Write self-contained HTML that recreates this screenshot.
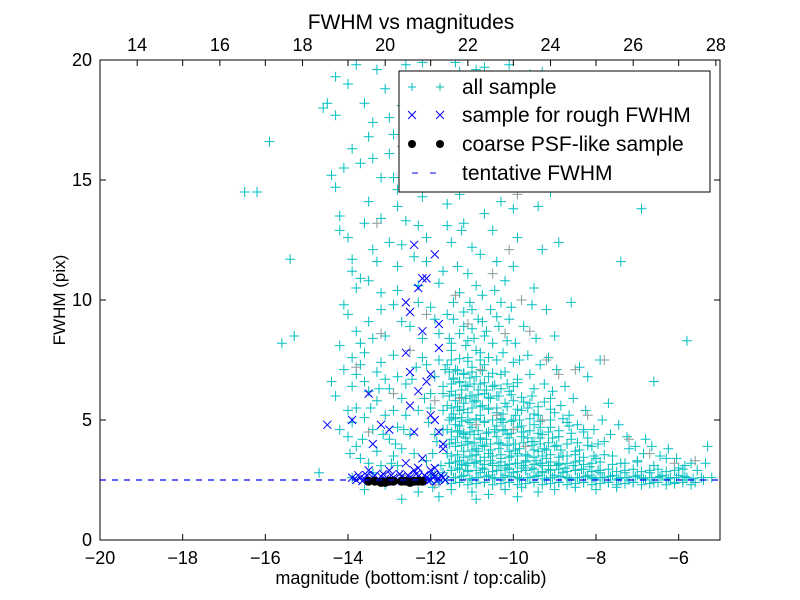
<!DOCTYPE html>
<html><head><meta charset="utf-8"><style>
html,body{margin:0;padding:0;background:#fff;}
svg{display:block;font-family:"Liberation Sans","DejaVu Sans",sans-serif;}
</style></head><body>
<svg id="chart" width="800" height="600" viewBox="0 0 800 600">
<rect x="0" y="0" width="800" height="600" fill="#fff"/>
<g id="plot"></g>
<g id="axes"></g>
</svg>
<script>
const xDomain = [-20, -5];
const yDomain = [0, 20];
const xTicks = [-20, -18, -16, -14, -12, -10, -8, -6];
const xTickLabels = ["\u221220", "\u221218", "\u221216", "\u221214", "\u221212", "\u221210", "\u22128", "\u22126"];
const yTicks = [0, 5, 10, 15, 20];
const yTickLabels = ["0", "5", "10", "15", "20"];
const topTicks = [14, 16, 18, 20, 22, 24, 26, 28];
const topOffset = 33.1;
const fwhmLevel = 2.5;

const allSample = "-16.5,14.5 -16.2,14.5 -15.9,16.6 -15.6,8.2 -15.4,11.7 -15.3,8.5 -14.6,18 -14.5,18.2 -14.4,15.2 -14.3,14.7 -14.3,17.7 -14.2,13.5 -14.2,12.9 -14.1,15.5 -14,12.6 -14,19 -14.3,19.3 -13.9,11.7 -13.8,10.5 -13.9,11.2 -13.7,10.9 -14,9.4 -13.8,8.7 -14.1,7.1 -14.3,6 -14.2,4.6 -14,4.3 -13.9,6.4 -13.8,5.5 -13.6,6.6 -13.7,7.3 -13.5,6.2 -13.6,5.1 -13.4,4.6 -13.5,3.2 -13.7,3.4 -13.3,3.7 -14.7,2.8 -13.5,14.1 -13.4,17.4 -13.3,19.6 -13.1,18.8 -13,16.1 -12.9,15.1 -13.2,13.4 -13,12.4 -12.8,11.4 -13.2,9.6 -13.1,8.5 -12.9,7.7 -12.7,9.1 -13.3,7 -13,6.3 -12.9,5.4 -12.8,4.7 -12.7,3.8 -12.6,6.5 -12.5,8.9 -12.4,11.8 -12.6,13.3 -12.5,17.1 -12.3,18.5 -12.2,14.3 -12.1,12.6 -12,9.7 -12.2,7.6 -12.3,5.4 -12,6.1 -11.9,4.4 -12.1,3.3 -11.8,10.7 -11.9,16.6 -12,19.3 -11.7,15.2 -11.6,13.1 -13.8,19.8 -13.6,18.2 -13.9,16.3 -13.7,15.7 -13.6,13.2 -13.4,12.1 -13.5,10.8 -13.3,11.6 -13.2,10.3 -13.5,9.1 -13.7,8.2 -13.6,7.8 -13.4,8.4 -13.2,7.4 -13.1,6.7 -13.3,5.8 -13.1,5.2 -13,4.2 -12.9,3.5 -13.2,3.1 -13.4,2.8 -13.8,3.9 -13.9,4.9 -14,5.4 -13.8,6.9 -13.9,7.6 -12.8,6.8 -12.7,5.9 -12.6,5.2 -12.5,4.4 -12.4,3.6 -12.8,3.1 -12.9,9.8 -12.8,10.4 -12.7,12.3 -12.8,13.9 -12.9,16.9 -12.7,18.1 -12.6,15.6 -12.4,14.9 -12.3,13.1 -12.3,9.9 -12.2,8.4 -12.1,7.3 -12,5.5 -11.9,6.8 -11.8,7.5 -11.7,6.1 -11.6,9.4 -11.7,11.2 -11.5,12.4 -11.6,14 -11.5,16.2 -11.4,17.6 -11.5,18.9 -11.3,19.5 -11.2,17.3 -11.1,15.8 -11.3,14.4 -11.2,13.2 -11,12.2 -11.1,11.1 -11.3,10.3 -11.2,9.5 -11,8.8 -10.9,10.6 -10.8,11.9 -10.7,13.6 -10.9,14.8 -10.8,16.5 -10.6,18.3 -10.7,19.7 -10.5,17.8 -10.4,15.4 -10.3,14.1 -10.5,12.9 -10.4,11.6 -10.2,10.8 -10.3,9.9 -10.1,9.2 -10,11.4 -9.9,12.6 -10,13.8 -9.8,15 -9.7,16.8 -9.9,18.6 -9.6,19.4 -9.5,17.2 -9.4,13.9 -9.3,12.1 -9.5,10.5 -9.2,9.6 -9,8.5 -8.9,12.4 -9.1,14.5 -8.8,16.1 -8.7,19.1 -8.6,9.9 -8.4,7.2 -8.2,6.8 -7.9,7.5 -7.7,5.7 -7.4,11.6 -6.9,13.8 -6.6,6.6 -5.8,8.3 -5.3,3.9 -11.5,7.9 -11.4,7.1 -11.3,6.6 -11.5,6.2 -11.4,5.8 -11.3,5.4 -11.5,5.1 -11.4,4.8 -11.3,4.5 -11.5,4.2 -11.4,3.9 -11.2,3.7 -11.3,3.3 -11.1,7.6 -11,7.2 -11.2,6.9 -11.1,6.4 -11,6 -11.2,5.7 -11.1,5.3 -10.9,5 -11,4.7 -11.2,4.4 -11.1,4.1 -10.9,3.8 -11,3.5 -11.1,3.2 -10.8,7.8 -10.7,7.3 -10.9,6.8 -10.8,6.5 -10.7,6.1 -10.9,5.8 -10.6,5.5 -10.8,5.2 -10.7,4.9 -10.6,4.5 -10.8,4.2 -10.7,3.9 -10.6,3.6 -10.8,3.3 -10.5,3.1 -10.5,8.2 -10.4,7.5 -10.3,6.9 -10.5,6.4 -10.4,6 -10.2,5.7 -10.4,5.3 -10.3,5 -10.2,4.6 -10.4,4.3 -10.3,4 -10.1,3.7 -10.3,3.4 -10.2,3.1 -10,7.4 -9.9,6.7 -10.1,6.2 -10,5.8 -9.8,5.4 -10,5 -9.9,4.7 -9.8,4.3 -10,4 -9.9,3.6 -9.7,3.3 -9.8,3 -9.6,6.9 -9.5,6.3 -9.6,5.7 -9.4,5.2 -9.5,4.8 -9.3,4.4 -9.5,4.1 -9.4,3.7 -9.2,3.4 -9.3,3.1 -9.1,5.9 -9,5.3 -9.1,4.7 -8.9,4.3 -9,3.9 -8.8,3.5 -8.9,3.2 -8.7,4.9 -8.6,4.2 -8.5,3.7 -8.4,3.3 -8.3,4.6 -8.1,3.9 -8,3.4 -7.8,4.1 -7.6,3.5 -7.4,3.2 -7.2,3.8 -7,3.3 -6.8,4.2 -6.6,3.1 -6.3,3.4 -6,3 -5.7,3.2 -11.6,7.3 -11.6,5.6 -11.6,4.6 -11.6,3.6 -11.45,6.7 -11.35,4.3 -11.25,5.1 -11.15,5.9 -11.05,4.9 -10.95,4.4 -10.85,3.7 -10.75,5.6 -10.65,4.2 -10.55,5.9 -10.45,4.6 -10.35,3.8 -10.25,4.9 -10.15,4.4 -10.05,3.5 -9.95,5.2 -9.85,3.8 -9.75,4.5 -9.65,3.5 -9.55,4.1 -9.45,3.3 -9.35,4.7 -9.25,3.8 -9.15,3.1 -12,2.6 -11.9,2.7 -11.8,2.4 -11.7,2.8 -11.6,2.5 -11.5,2.9 -11.4,2.6 -11.3,2.4 -11.2,2.7 -11.1,2.9 -11,2.5 -10.9,2.6 -10.8,2.8 -10.7,2.4 -10.6,2.7 -10.5,2.6 -10.4,2.9 -10.3,2.5 -10.2,2.7 -10.1,2.4 -10,2.8 -9.9,2.6 -9.8,2.5 -9.7,2.9 -9.6,2.6 -9.5,2.4 -9.4,2.7 -9.3,2.8 -9.2,2.5 -9.1,2.6 -9,2.7 -8.9,2.4 -8.8,2.8 -8.7,2.6 -8.6,2.5 -8.5,2.9 -8.4,2.6 -8.3,2.4 -8.2,2.7 -8.1,2.6 -8,2.5 -7.9,2.8 -7.8,2.6 -7.7,2.4 -7.6,2.7 -7.5,2.5 -7.4,2.6 -7.3,2.8 -7.2,2.5 -7.1,2.4 -7,2.7 -6.9,2.6 -6.8,2.5 -6.7,2.8 -6.6,2.4 -6.5,2.6 -6.4,2.7 -6.3,2.5 -6.2,2.6 -6.1,2.4 -6,2.7 -5.9,2.5 -5.8,2.6 -5.6,2.4 -5.4,2.5 -5.2,2.6 -11.75,3.1 -11.55,3.2 -11.35,3 -11.15,3.1 -10.95,3.2 -10.75,3 -10.55,3.3 -10.35,3.1 -10.15,3 -9.95,3.2 -9.75,3.1 -9.55,3 -9.35,3.2 -9.15,2.95 -8.95,3.1 -8.75,3 -8.55,3.1 -8.35,2.95 -8.15,3.05 -7.95,2.9 -11.95,2.2 -11.5,2.1 -11,2 -10.6,1.9 -10.2,2.1 -9.8,2.2 -9.4,2 -9,2.1 -8.5,2.2 -8,2.1 -7.5,2.2 -11.8,1.8 -10.9,1.7 -9.9,1.8 -12.7,1.7 -12.3,2 -13.1,2.3 -13.6,2.1 -13.9,2.6 -12.6,19.8 -12.2,19.9 -11.8,18.2 -11.4,19.9 -10.9,19.6 -10.1,19.8 -9.3,19.5 -8.4,18.5 -7.3,17.3 -11.7,4.6 -11.7,5.4 -11.7,6.4 -11.8,8.6 -11.9,9.2 -12.3,10.6 -12.1,11.6 -12.4,15.9 -12.8,14.6 -13,17.6 -13.2,15.1 -13.4,15.9 -13.5,16.8 -14.1,9.8 -14.2,8.1 -14.4,6.6 -13.95,3.6 -13.65,4.2 -13.45,5.5 -13.25,6.3 -13.15,4.4 -12.95,3.2 -12.85,4 -12.65,4.6 -12.45,6.7 -12.35,7.2 -12.15,5.9 -12.05,4.9 -11.95,3.6 -11.85,4.1 -11.65,7.1 -11.55,8.4 -11.45,9.9 -11.35,11.4 -11.25,12.9 -11.15,8.1 -11.05,9.9 -10.95,8.4 -10.85,9.2 -10.75,10.2 -10.65,8.7 -10.55,9.6 -10.45,10.4 -10.35,8.9 -10.25,7.8 -10.15,8.3 -10.05,9.7 -9.95,8.2 -9.85,7.5 -9.75,8.9 -9.65,7.7 -9.55,9.8 -9.45,8.4 -9.35,7.3 -9.25,6.5 -9.15,7.6 -9.05,6.2 -8.95,7.1 -8.85,5.6 -8.75,6.4 -8.65,5.2 -8.55,5.9 -8.45,4.8 -8.25,5.4 -8.05,4.6 -7.85,5 -7.65,4.4 -7.45,4.8 -7.25,4.3 -7.05,3.9 -6.85,3.6 -6.65,3.9 -6.45,3.5 -6.25,3.8 -6.05,3.4 -5.85,3.1 -5.55,2.9 -5.35,3.2";

const denseCore = "-11.5,7.5 -11.3,7.55 -11.1,7.45 -10.8,7.5 -10.6,7.6 -11.55,7 -11.35,7.05 -11.2,6.95 -11,7 -10.75,7.05 -10.5,6.95 -10.2,7 -11.5,6.5 -11.3,6.55 -11.15,6.45 -10.95,6.5 -10.7,6.55 -10.45,6.45 -10.15,6.5 -9.9,6.55 -11.55,6 -11.4,6.05 -11.25,5.95 -11.05,6 -10.85,6.05 -10.6,5.95 -10.35,6 -10.05,6.05 -9.8,5.95 -9.55,6 -11.5,5.5 -11.35,5.55 -11.2,5.45 -11,5.5 -10.8,5.55 -10.6,5.45 -10.4,5.5 -10.15,5.55 -9.9,5.45 -9.65,5.5 -9.4,5.55 -9.1,5.45 -11.55,5 -11.4,5.05 -11.25,4.95 -11.1,5 -10.9,5.05 -10.7,4.95 -10.5,5 -10.3,5.05 -10.05,4.95 -9.85,5 -9.6,5.05 -9.35,4.95 -9.1,5 -8.8,5.05 -11.5,4.5 -11.35,4.55 -11.2,4.45 -11.05,4.5 -10.85,4.55 -10.65,4.45 -10.45,4.5 -10.25,4.55 -10.05,4.45 -9.8,4.5 -9.6,4.55 -9.4,4.45 -9.15,4.5 -8.9,4.55 -8.6,4.45 -8.3,4.5 -11.55,4 -11.4,4.05 -11.25,3.95 -11.1,4 -10.95,4.05 -10.75,3.95 -10.55,4 -10.35,4.05 -10.15,3.95 -9.95,4 -9.75,4.05 -9.55,3.95 -9.35,4 -9.15,4.05 -8.95,3.95 -8.7,4 -8.45,4.05 -8.2,3.95 -7.95,4 -11.5,3.5 -11.35,3.55 -11.2,3.45 -11.05,3.5 -10.9,3.55 -10.7,3.45 -10.5,3.5 -10.3,3.55 -10.1,3.45 -9.9,3.5 -9.7,3.55 -9.5,3.45 -9.3,3.5 -9.1,3.55 -8.9,3.45 -8.7,3.5 -8.5,3.55 -8.3,3.45 -8.05,3.5 -7.8,3.55 -11.55,3.2 -11.4,3.25 -11.25,3.15 -11.1,3.2 -10.9,3.25 -10.7,3.15 -10.5,3.2 -10.3,3.25 -10.1,3.15 -9.9,3.2 -9.7,3.25 -9.5,3.15 -9.3,3.2 -9.1,3.25 -8.9,3.15 -8.7,3.2 -8.5,3.25 -8.3,3.15 -8.1,3.2 -7.9,3.25 -7.6,3.15 -7.3,3.2 -7,3.25 -11.5,2.9 -11.3,2.95 -11.1,2.85 -10.9,2.9 -10.7,2.95 -10.5,2.85 -10.3,2.9 -10.1,2.95 -9.9,2.85 -9.7,2.9 -9.5,2.95 -9.3,2.85 -9.1,2.9 -8.9,2.95 -8.7,2.85 -8.5,2.9 -8.3,2.95 -8.1,2.85 -7.9,2.9 -7.7,2.95 -7.5,2.85 -7.3,2.9 -7.1,2.95 -6.9,2.85 -6.7,2.9 -6.5,2.95 -6.3,2.85 -6.1,2.9 -5.9,2.95 -11.45,2.6 -11.25,2.65 -11.05,2.55 -10.85,2.6 -10.65,2.65 -10.45,2.55 -10.25,2.6 -10.05,2.65 -9.85,2.55 -9.65,2.6 -9.45,2.65 -9.25,2.55 -9.05,2.6 -8.85,2.65 -8.65,2.55 -8.45,2.6 -8.25,2.65 -8.05,2.55 -7.85,2.6 -7.65,2.65 -7.45,2.55 -7.25,2.6 -7.05,2.65 -6.85,2.55 -6.65,2.6 -6.45,2.65 -6.25,2.55 -6.05,2.6 -5.85,2.65 -5.65,2.55 -5.45,2.6 -11.5,2.35 -11.3,2.4 -11.1,2.3 -10.9,2.35 -10.7,2.4 -10.5,2.3 -10.3,2.35 -10.1,2.4 -9.9,2.3 -9.7,2.35 -9.5,2.4 -9.3,2.3 -9.1,2.35 -8.9,2.4 -8.7,2.3 -8.5,2.35 -8.3,2.4 -8.1,2.3 -7.9,2.35 -7.7,2.4 -7.5,2.3 -7.3,2.35 -7.1,2.4 -6.9,2.3 -6.7,2.35 -6.5,2.4 -6.3,2.3 -6.1,2.35 -5.9,2.4 -5.7,2.3 -11.45,5.25 -11.3,4.75 -11.15,4.25 -11,3.75 -10.95,5.75 -10.8,4.25 -10.65,6.25 -10.55,3.75 -10.4,4.75 -10.25,5.25 -10.1,4.25 -9.95,3.75 -9.8,4.75 -9.65,4.25 -9.5,3.75 -9.35,4.25 -9.2,3.75 -9.05,4.25 -8.85,3.75 -8.65,4.75 -8.4,3.75 -8.2,4.25 -11.45,6.75 -11.25,6.25 -11.05,6.75 -10.85,6.25 -10.6,6.8 -10.3,6.3 -10,6.4 -9.75,5.75 -9.5,5.25 -9.25,5.75 -11.5,8.2 -11.3,8.6 -11.1,8.3 -10.9,7.9 -10.7,8.5 -11.45,9.2 -11.2,8.9 -11,9.6 -10.75,9.1 -10.4,9.3";

const greySample = "-13.8,7.2 -13.5,4.5 -13.2,8.6 -12.9,6.1 -12.5,7.9 -12.1,9.4 -11.9,5.8 -11.4,10.2 -11.1,9 -10.8,7.1 -10.5,11.1 -10.2,8.6 -10.1,12.1 -9.8,10 -9.6,8.7 -9.2,7.5 -8.9,6.9 -8.5,7.1 -8.2,5.2 -7.8,7.5 -7.2,4.2 -6.7,3.6 -6.1,3.2 -5.6,3.3 -11.3,5.9 -10.9,4.8 -10.4,5.2 -10,4.6 -9.7,3.9 -9.3,5 -13.3,13.2 -12.7,16.4 -12.1,14.9 -11.1,16.9 -10.6,14.7 -9.9,14.4 -13.1,2.6 -12.7,2.7 -11.9,2.3";

const roughSample = "-14.5,4.8 -13.9,5 -13.5,6.1 -13.4,4 -13.2,4.8 -13,4.6 -12.6,9.9 -12.5,9.5 -12.3,10.5 -12.2,10.9 -12.1,10.9 -11.9,11.9 -12.4,12.3 -12.6,7.8 -12.5,7 -12.2,8.7 -12,6.9 -11.8,9 -11.8,8 -12.1,6.6 -12.3,6.2 -12.5,5.6 -12.4,4.5 -12,5.2 -11.9,5 -11.8,4.5 -11.7,4 -11.7,3.8 -11.9,3 -12.2,3.4 -12,2.9 -12.6,3.2 -12.4,2.9 -12.3,3 -13,2.9 -13.5,2.9 -13.9,2.6 -13.8,2.5 -13.7,2.6 -13.6,2.55 -13.4,2.6 -13.3,2.5 -13.2,2.65 -13.1,2.55 -12.9,2.6 -12.8,2.5 -12.7,2.65 -12.6,2.55 -12.5,2.6 -12.4,2.5 -12.3,2.65 -12.2,2.55 -12.1,2.6 -12,2.5 -11.9,2.65 -11.8,2.55 -11.7,2.6 -11.65,2.5 -11.75,2.7 -11.85,2.45 -11.95,2.7 -12.05,2.45 -12.15,2.7 -12.25,2.45 -12.35,2.75 -12.45,2.45 -12.55,2.7 -12.65,2.45 -12.75,2.75 -12.85,2.45 -12.95,2.7 -13.05,2.45 -13.15,2.75 -13.25,2.45 -13.35,2.7 -13.45,2.45 -13.55,2.7 -13.65,2.45 -13.75,2.7";

const psfSample = "-13.5,2.45 -13.35,2.45 -13.2,2.4 -13.1,2.4 -13,2.45 -12.9,2.45 -12.7,2.45 -12.6,2.45 -12.5,2.4 -12.4,2.45 -12.3,2.45 -12.2,2.45";

function parsePts(s){ return s.trim().split(/\s+/).map(p=>p.split(',').map(Number)); }

const L=100, R=720, T=60, B=540;
const xScale = v => L + (v - xDomain[0]) / (xDomain[1] - xDomain[0]) * (R - L);
const yScale = v => B - (v - yDomain[0]) / (yDomain[1] - yDomain[0]) * (B - T);
const NS = "http://www.w3.org/2000/svg";
function mk(tag, attrs, parent){ const e=document.createElementNS(NS,tag); for(const k in attrs) e.setAttribute(k,attrs[k]); parent.appendChild(e); return e; }

const plot = document.getElementById('plot');
const axes = document.getElementById('axes');
const clip = mk('clipPath',{id:'cp'},plot);
mk('rect',{x:L,y:T,width:R-L,height:B-T},clip);
const pg = mk('g',{'clip-path':'url(#cp)'},plot);

function plus(x,y,col,parent){
  return mk('path',{d:`M${x-5},${y}H${x+5}M${x},${y-5}V${y+5}`,stroke:col,'stroke-width':1,fill:'none'},parent);
}
function cross(x,y,col,parent){
  return mk('path',{d:`M${x-4},${y-4}L${x+4},${y+4}M${x-4},${y+4}L${x+4},${y-4}`,stroke:col,'stroke-width':1,fill:'none'},parent);
}

const gAll = mk('g',{},pg);


parsePts(allSample).concat(parsePts(denseCore)).forEach(([m,f])=>{
  const e = plus(xScale(m), yScale(f), '#00bfbf', gAll);
  
  
});
const gGrey = mk('g',{},pg);


parsePts(greySample).forEach(([m,f])=>{
  const e = plus(xScale(m), yScale(f), '#8a9a9a', gGrey);
  
  
});
const gRough = mk('g',{},pg);


parsePts(roughSample).forEach(([m,f])=>{
  const e = cross(xScale(m), yScale(f), '#0000ff', gRough);
  
  
});
const gPsf = mk('g',{},pg);


parsePts(psfSample).forEach(([m,f])=>{
  const e = mk('circle',{cx:xScale(m),cy:yScale(f),r:4.5,fill:'#000'},gPsf);
  
  
});
const dash = mk('line',{x1:L,x2:R,y1:yScale(fwhmLevel),y2:yScale(fwhmLevel),stroke:'#0000ff','stroke-width':1.2,'stroke-dasharray':'6,6'},pg);



const frame = mk('rect',{x:L,y:T,width:R-L,height:B-T,fill:'none',stroke:'#000','stroke-width':1},axes);



xTicks.forEach((v,i)=>{
  const x=xScale(v);
  mk('path',{d:`M${x},${B}v-6M${x},${T}v6`,stroke:'#000'},axes);
  const t=mk('text',{x:x,y:B+24,'font-size':18,'text-anchor':'middle'},axes);
  t.textContent=xTickLabels[i];
  
  
});
topTicks.forEach(v=>{
  const x=xScale(v-topOffset);
  mk('path',{d:`M${x},${T}v6`,stroke:'#000'},axes);
  const t=mk('text',{x:x,y:T-9,'font-size':18,'text-anchor':'middle'},axes);
  t.textContent=String(v);
  
  
});
yTicks.forEach((v,i)=>{
  const y=yScale(v);
  mk('path',{d:`M${L},${y}h6M${R},${y}h-6`,stroke:'#000'},axes);
  const t=mk('text',{x:L-8,y:y+6,'font-size':18,'text-anchor':'end'},axes);
  t.textContent=yTickLabels[i];
  
  
});
</script>
<script>
const svg=document.getElementById('chart');
function add(tag,attrs,txt){const e=document.createElementNS("http://www.w3.org/2000/svg",tag);for(const k in attrs)e.setAttribute(k,attrs[k]);if(txt)e.textContent=txt;svg.appendChild(e);return e;}
const title=add('text',{x:411,y:29,'font-size':21,'text-anchor':'middle'},'FWHM vs magnitudes');


const xl=add('text',{x:411,y:584,'font-size':18,'text-anchor':'middle'},'magnitude (bottom:isnt / top:calib)');


const yl=add('text',{x:0,y:0,'font-size':17,'text-anchor':'middle',transform:'translate(65,300) rotate(-90)'},'FWHM (pix)');


const lg=add('g',{});


function la(tag,attrs,txt){const e=document.createElementNS("http://www.w3.org/2000/svg",tag);for(const k in attrs)e.setAttribute(k,attrs[k]);if(txt)e.textContent=txt;lg.appendChild(e);return e;}
la('rect',{x:399,y:71,width:311,height:121,fill:'#fff',stroke:'#000','stroke-width':1});
const rows=[87,115,144,173];
const labels=['all sample','sample for rough FWHM','coarse PSF-like sample','tentative FWHM'];
const mx=[412,440];
mx.forEach(x=>{
  la('path',{d:`M${x-4},${rows[0]}h8M${x},${rows[0]-4}v8`,stroke:'#00bfbf'});
  la('path',{d:`M${x-4},${rows[1]-4}l8,8M${x-4},${rows[1]+4}l8,-8`,stroke:'#0000ff'});
  la('circle',{cx:x,cy:rows[2],r:4,fill:'#000'});
});
la('path',{d:`M412,${rows[3]}h6M430,${rows[3]}h6`,stroke:'#0000ff'});
labels.forEach((s,i)=>{
  const t=la('text',{x:462,y:rows[i]+7,'font-size':21},s);
  
  
});
</script>
</body></html>
